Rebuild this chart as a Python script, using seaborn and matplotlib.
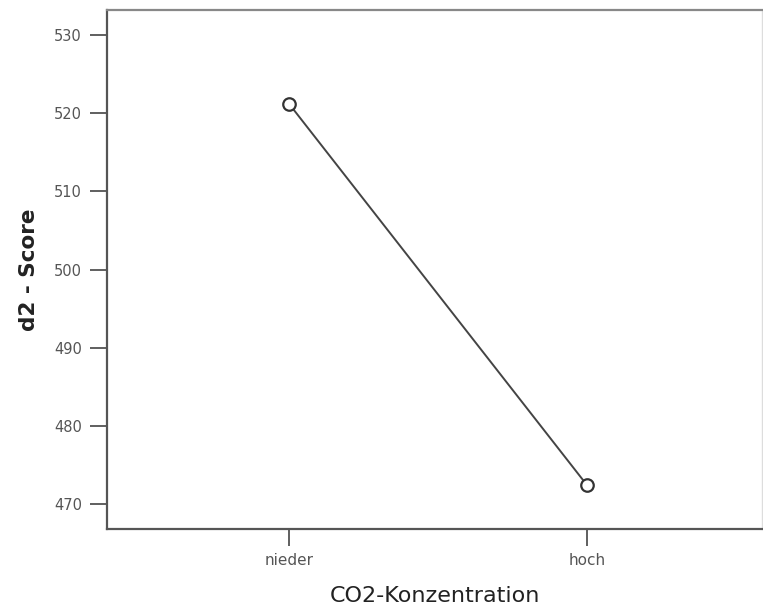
import matplotlib
matplotlib.use("Agg")
import matplotlib.pyplot as plt
import seaborn as sns
import pandas as pd

categories = ["nieder", "hoch"]
scores = [521.2, 472.4]
yticks = [470, 480, 490, 500, 510, 520, 530]

sns.set_theme(style="white")
plt.rcParams['font.family'] = ['DejaVu Sans']

df = pd.DataFrame({"CO2-Konzentration": categories, "d2 - Score": scores})

fig = plt.figure(figsize=(7.63, 6.11), dpi=100)
ax = fig.add_axes([0.1402, 0.1342, 0.8585, 0.8494])

sns.pointplot(data=df, x="CO2-Konzentration", y="d2 - Score", order=categories,
              errorbar=None, color="#444444", markers="o", linewidth=1.4,
              markersize=9, markerfacecolor="white", markeredgewidth=1.6,
              markeredgecolor="#333333", ax=ax)

ax.set_xlim(-0.611, 1.587)
ax.set_ylim(466.8, 533.2)
ax.set_yticks(yticks)
ax.set_yticklabels([str(v) for v in yticks])

ax.tick_params(axis="both", which="major", direction="out", length=12, width=1.2,
               color="#444444", labelcolor="#555555",
               left=True, bottom=True)
ax.tick_params(axis="y", labelsize=10.5, pad=6)
ax.tick_params(axis="x", labelsize=11, pad=5)

for side in ["left", "bottom"]:
    ax.spines[side].set_color("#555555")
    ax.spines[side].set_linewidth(1.6)
ax.spines["top"].set_color("#888888")
ax.spines["top"].set_linewidth(1.6)
ax.spines["right"].set_color("#dddddd")
ax.spines["right"].set_linewidth(1.0)

ax.set_xlabel("CO2-Konzentration", fontsize=16, color="#222222", labelpad=13)
ax.set_ylabel("d2 - Score", fontsize=15.5, fontweight="bold", color="#222222", labelpad=11)

fig.savefig("out.png", dpi=100)
